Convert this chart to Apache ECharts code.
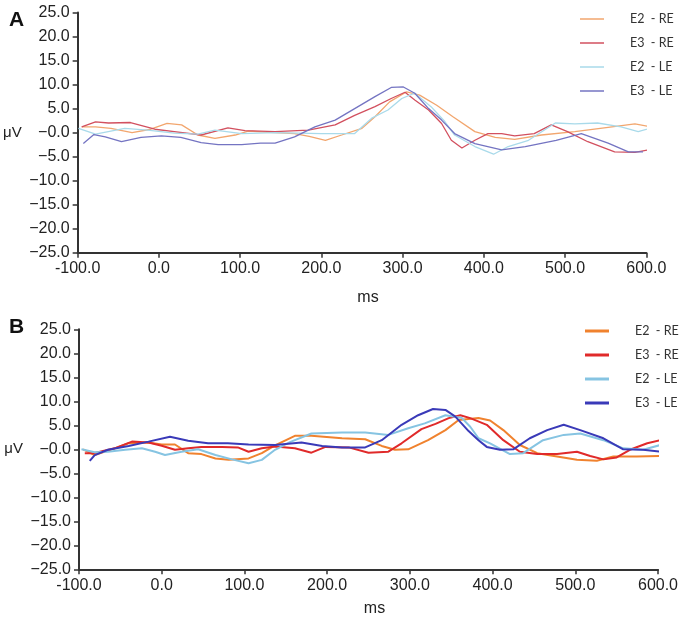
<!DOCTYPE html>
<html>
<head>
<meta charset="utf-8">
<script src="https://cdn.jsdelivr.net/npm/echarts@6/dist/echarts.min.js"></script>
<style>
html,body{margin:0;padding:0;background:#fff;}
#chart{width:686px;height:619px;}
</style>
</head>
<body>
<div id="chart"></div>
<script>
// ---- Data: [ms, μV] pairs ----
const seriesNames = ['E2  - RE', 'E3  - RE', 'E2  - LE', 'E3  - LE'];
const xTicks = { min: -100, max: 600, interval: 100 };
const yTicks = { min: -25, max: 25, interval: 5 };

// Panel A
const A_E2_RE = [[-95,1.2],[-78,1.2],[-59,0.9],[-33,0],[-10,0.7],[10,1.9],[28,1.6],[48,-0.5],[69,-1.2],[94,-0.5],[110,0.3],[143,0],[167,-0.2],[185,-0.8],[205,-1.6],[225,-0.5],[250,0.9],[266,3.3],[284,6.4],[305,8.5],[321,7.8],[342,5.7],[362,3.3],[389,0.2],[414,-1.0],[438,-1.4],[471,-0.5],[512,0.2],[553,1.1],[586,1.8],[621,0.7]];
const A_E3_RE = [[-95,1.2],[-78,2.25],[-62,2.0],[-35,2.1],[-5,0.7],[19,0.2],[52,-0.5],[85,1.0],[106,0.4],[143,0.2],[184,0.5],[217,1.6],[241,3.6],[266,5.4],[286,7.1],[303,8.4],[315,6.8],[332,4.7],[348,1.9],[360,-1.6],[373,-3.2],[389,-1.6],[405,-0.2],[422,-0.2],[438,-0.7],[462,-0.2],[483,1.6],[503,0.2],[528,-1.9],[561,-4.0],[586,-4.1],[602,-3.6],[627,-3.1]];
const A_E2_LE = [[-99,0.9],[-78,-0.3],[-42,0.9],[-14,0.5],[19,-0.1],[48,-0.3],[69,0.5],[102,-0.2],[143,0],[200,-0.2],[241,-0.2],[262,3.0],[282,4.7],[299,7.1],[315,8.2],[335,5.4],[352,2.3],[364,-0.5],[389,-2.9],[412,-4.5],[430,-2.9],[455,-1.6],[488,2.0],[512,1.8],[540,2.0],[569,1.2],[590,0.2],[611,1.2],[633,3.0]];
const A_E3_LE = [[-93,-2.25],[-80,-0.4],[-66,-0.9],[-46,-1.9],[-22,-1.0],[3,-0.7],[27,-1.0],[52,-2.1],[73,-2.5],[102,-2.5],[125,-2.2],[143,-2.2],[167,-0.9],[192,1.2],[217,2.6],[241,5.0],[266,7.5],[286,9.4],[301,9.5],[315,8.2],[332,5.0],[348,2.6],[364,-0.2],[389,-2.3],[422,-3.6],[451,-2.9],[489,-1.6],[520,-0.2],[553,-2.2],[578,-4.0],[596,-4.0]];

// Panel B
const B_E2_RE = [[-95,0],[-81,-1.2],[-57,0.2],[-40,1.25],[-16,1.4],[0,1.0],[16,1.0],[32,-0.8],[48,-1.0],[65,-1.9],[81,-2.2],[105,-1.9],[121,-0.8],[137,0.8],[161,2.8],[181,2.8],[218,2.3],[246,2.1],[266,0.7],[282,-0.1],[298,0],[322,1.9],[343,4.0],[359,6.1],[383,6.5],[397,6.0],[413,4.0],[433,0.9],[454,-0.8],[478,-1.5],[502,-2.2],[526,-2.4],[546,-1.5],[574,-1.5],[603,-1.4]];
const B_E3_RE = [[-93,-0.8],[-82,-0.8],[-57,0.2],[-36,1.6],[-16,1.4],[0,0.75],[16,-0.1],[32,0.2],[48,0.5],[73,0.5],[92,0.4],[105,-0.5],[121,0.2],[137,0.6],[161,0.2],[181,-0.7],[198,0.5],[226,0.4],[250,-0.7],[274,-0.5],[290,1.25],[314,4.2],[331,5.3],[347,6.5],[361,7.1],[373,6.5],[393,5.1],[413,1.9],[433,-0.5],[454,-1.0],[478,-1.0],[502,-0.5],[518,-1.4],[534,-2.1],[550,-1.7],[566,-0.1],[587,1.25],[603,1.9]];
const B_E2_LE = [[-97,0],[-81,-0.6],[-65,-0.5],[-44,-0.1],[-24,0.2],[-8,-0.5],[4,-1.2],[24,-0.5],[44,0],[65,-1.2],[85,-2.1],[105,-2.9],[121,-2.2],[137,-0.1],[155,1.5],[181,3.3],[218,3.5],[246,3.5],[274,3.0],[298,4.4],[318,5.4],[343,7.1],[363,6.5],[373,4.7],[383,2.3],[397,1.25],[421,-1.0],[437,-0.8],[461,1.9],[486,3.0],[506,3.3],[534,1.9],[558,0.2],[582,-0.1],[603,0.9]];
const B_E3_LE = [[-87,-2.4],[-81,-1.2],[-65,-0.1],[-40,0.7],[-16,1.6],[10,2.6],[32,1.8],[56,1.25],[80,1.25],[105,1.0],[137,0.9],[169,1.4],[194,0.7],[218,0.4],[246,0.4],[266,1.9],[290,5.1],[310,7.1],[328,8.4],[343,8.2],[355,6.8],[371,3.8],[383,1.9],[393,0.5],[409,-0.1],[425,0],[445,2.3],[466,4.0],[486,5.1],[506,4.0],[534,2.3],[558,0],[582,-0.1],[603,-0.5]];

const panelAData = [A_E2_RE, A_E3_RE, A_E2_LE, A_E3_LE];
const panelBData = [B_E2_RE, B_E3_RE, B_E2_LE, B_E3_LE];
const colorsA = ['#f2a66e', '#d2505f', '#a9daea', '#7474c2'];
const colorsB = ['#f0822e', '#e02a2a', '#86c4e2', '#3a3ab8'];

// ---- Chart ----
const chart = echarts.init(document.getElementById('chart'), null, {renderer: 'canvas'});
const axisFont = 'Liberation Sans';
const yFmt = v => (v <= 0 ? '\u2212' + Math.abs(v).toFixed(1) : v.toFixed(1));
const xFmt = v => v.toFixed(1);

function xAxis(idx, gap) {
  return {
    type: 'value', gridIndex: idx, min: xTicks.min, max: xTicks.max, interval: xTicks.interval,
    name: 'ms', nameLocation: 'middle', nameGap: gap,
    nameTextStyle: {fontFamily: axisFont, fontSize: 16, color: '#222', padding: [0, 0, 0, 12]},
    axisLine: {show: true, onZero: false, lineStyle: {color: '#333', width: 2}},
    axisTick: {show: true, inside: false, length: 5, lineStyle: {color: '#333', width: 1.5}},
    axisLabel: {formatter: xFmt, fontFamily: axisFont, fontSize: 16, color: '#222', margin: 8},
    splitLine: {show: false}
  };
}
function yAxis(idx) {
  return {
    type: 'value', gridIndex: idx, min: yTicks.min, max: yTicks.max, interval: yTicks.interval,
    name: 'μV', nameLocation: 'middle', nameRotate: 0, nameGap: 56,
    nameTextStyle: {fontFamily: axisFont, fontSize: 15, color: '#222'},
    axisLine: {show: true, onZero: false, lineStyle: {color: '#333', width: 2}},
    axisTick: {show: true, inside: false, length: 5, lineStyle: {color: '#333', width: 1.5}},
    axisLabel: {formatter: yFmt, fontFamily: axisFont, fontSize: 16, color: '#222', margin: 8},
    splitLine: {show: false}
  };
}

const series = [];
seriesNames.forEach((n, i) => {
  series.push({
    name: n + ' (A)', type: 'line', xAxisIndex: 0, yAxisIndex: 0,
    data: panelAData[i], symbol: 'none', showSymbol: false, clip: false,
    lineStyle: {color: colorsA[i], width: 1.3}, itemStyle: {color: colorsA[i]}, animation: false
  });
});
seriesNames.forEach((n, i) => {
  series.push({
    name: n + ' (B)', type: 'line', xAxisIndex: 1, yAxisIndex: 1,
    data: panelBData[i], symbol: 'none', showSymbol: false, clip: false,
    lineStyle: {color: colorsB[i], width: 2}, itemStyle: {color: colorsB[i]}, animation: false
  });
});

function legend(left, top, suffix, h) {
  return {
    orient: 'vertical', left: left, top: top, padding: 0,
    icon: 'rect', itemWidth: 24, itemHeight: h, itemGap: 10,
    data: seriesNames.map(n => n + suffix),
    formatter: name => name.replace(/ \([AB]\)$/, ''),
    textStyle: {fontFamily: 'Lato', fontSize: 12.5, lineHeight: 14, color: '#333', padding: [0, 0, 0, 21]},
    selectedMode: false
  };
}

chart.setOption({
  backgroundColor: '#fff',
  animation: false,
  grid: [
    {left: 77.5, top: 12.5, width: 568.8, height: 240.2},
    {left: 79, top: 329.3, width: 579, height: 240}
  ],
  xAxis: [xAxis(0, 37), xAxis(1, 31)],
  yAxis: [yAxis(0), yAxis(1)],
  legend: [legend(580, 12, ' (A)', 1.5), legend(585, 324, ' (B)', 3)],
  graphic: [
    {type: 'text', left: 9, top: 10, style: {text: 'A', font: 'bold 21px "Liberation Sans"', fill: '#111'}},
    {type: 'text', left: 9, top: 317, style: {text: 'B', font: 'bold 21px "Liberation Sans"', fill: '#111'}}
  ],
  series: series
});
</script>
</body>
</html>
